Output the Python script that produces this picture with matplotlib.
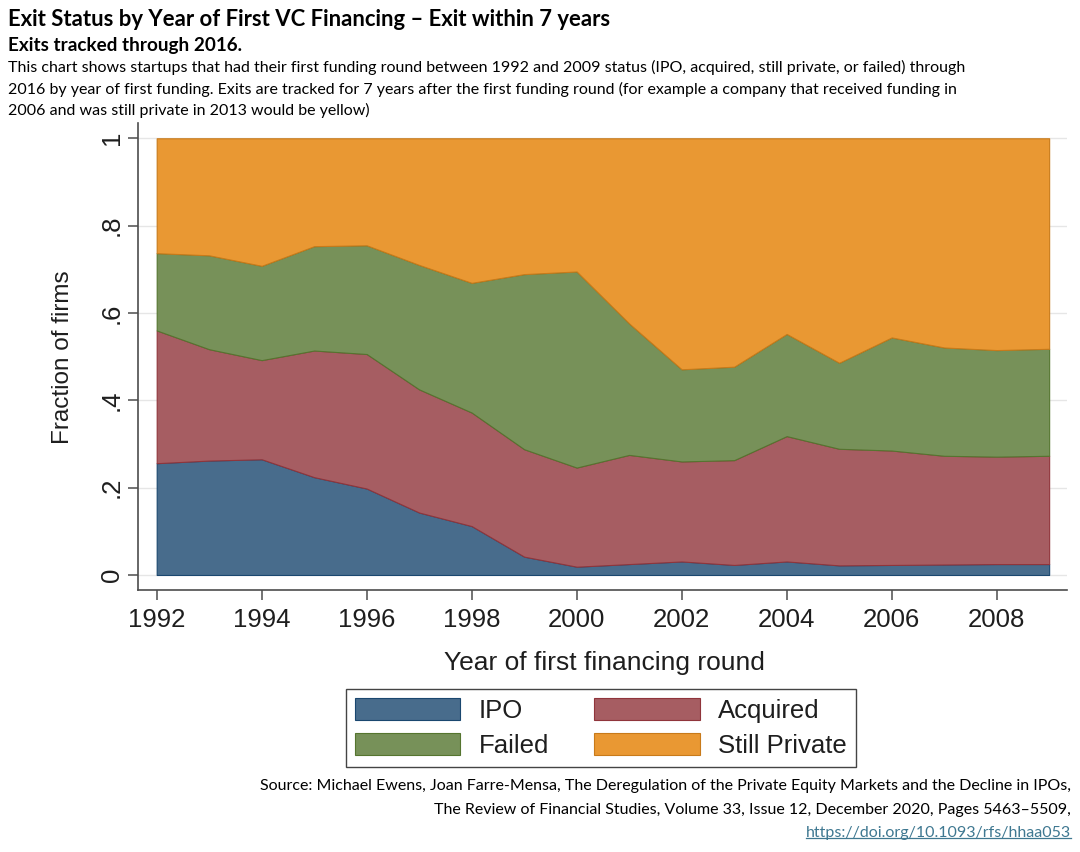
import numpy as np
import matplotlib
matplotlib.use("Agg")
import matplotlib.pyplot as plt
from matplotlib.patches import Patch
from matplotlib.lines import Line2D

# ---------------- data ----------------
years = list(range(1992, 2010))
ipo = [0.256, 0.262, 0.265, 0.224, 0.198, 0.143, 0.112, 0.042, 0.019,
       0.025, 0.031, 0.023, 0.031, 0.022, 0.023, 0.024, 0.025, 0.025]
acquired = [0.304, 0.255, 0.227, 0.290, 0.308, 0.282, 0.260, 0.246, 0.227,
            0.250, 0.229, 0.240, 0.287, 0.267, 0.262, 0.249, 0.246, 0.248]
failed = [0.177, 0.215, 0.216, 0.239, 0.249, 0.285, 0.297, 0.401, 0.449,
          0.301, 0.211, 0.214, 0.234, 0.197, 0.259, 0.248, 0.244, 0.245]
still_private = [0.263, 0.268, 0.292, 0.247, 0.245, 0.290, 0.331, 0.311, 0.305,
                 0.424, 0.529, 0.523, 0.448, 0.514, 0.456, 0.479, 0.485, 0.482]
series_names = ["IPO", "Acquired", "Failed", "Still Private"]
xtick_years = list(range(1992, 2010, 2))
yticks = [0, 0.2, 0.4, 0.6, 0.8, 1.0]
ytick_labels = ["0", ".2", ".4", ".6", ".8", "1"]

title = "Exit Status by Year of First VC Financing \u2013 Exit within 7 years"
subtitle = "Exits tracked through 2016."
desc = [
    "This chart shows startups that had their first funding round between 1992 and 2009 status (IPO, acquired, still private, or failed) through",
    "2016 by year of first funding. Exits are tracked for 7 years after the first funding round (for example a company that received funding in",
    "2006 and was still private in 2013 would be yellow)",
]
source = [
    "Source: Michael Ewens, Joan Farre-Mensa, The Deregulation of the Private Equity Markets and the Decline in IPOs,",
    "The Review of Financial Studies, Volume 33, Issue 12, December 2020, Pages 5463\u20135509,",
]
url = "https://doi.org/10.1093/rfs/hhaa053"

fill_colors = ["#486c8c", "#a65d62", "#779159", "#e99833"]
edge_colors = ["#1a476f", "#90353b", "#55752f", "#c87a1a"]

# ---------------- figure ----------------
W, H = 1080, 852
fig = plt.figure(figsize=(W / 100, H / 100), dpi=100)
renderer = fig.canvas.get_renderer()

ax_l, ax_r, ax_t, ax_b = 138, 1067, 123, 590
ax = fig.add_axes([ax_l / W, 1 - ax_b / H, (ax_r - ax_l) / W, (ax_b - ax_t) / H])

polys = ax.stackplot(years, ipo, acquired, failed, still_private,
                     colors=fill_colors, labels=series_names, zorder=2)
for p, ec in zip(polys, edge_colors):
    p.set_edgecolor(ec)
    p.set_linewidth(0.8)

ax.set_xlim(1991.644, 2009.34)
ax.set_ylim(-0.0344, 1.035)

axis_col = "#4d4d4d"
text_col = "#1e1e1e"
chart_font = "Liberation Sans"

ax.set_xticks(xtick_years)
ax.set_xticklabels([str(y) for y in xtick_years], fontsize=18.5,
                   family=chart_font, color=text_col)
ax.set_yticks(yticks)
ax.set_yticklabels(ytick_labels, fontsize=18.5, family=chart_font,
                   color=text_col, rotation=90, va="center")
ax.tick_params(axis="x", length=7.2, width=1.1, color=axis_col, pad=6)
ax.tick_params(axis="y", length=7.2, width=1.1, color=axis_col, pad=3)

for s in ["top", "right"]:
    ax.spines[s].set_visible(False)
for s in ["left", "bottom"]:
    ax.spines[s].set_color(axis_col)
    ax.spines[s].set_linewidth(1.2)

ax.yaxis.grid(True, color="#e6e6e6", linewidth=1.0)
ax.set_axisbelow(True)

xl = ax.set_xlabel("Year of first financing round", fontsize=19,
                   family=chart_font, color=text_col)
ax.xaxis.set_label_coords(0.5016, -(663 - ax_b) / (ax_b - ax_t))
xl.set_va("center")
yl = ax.set_ylabel("Fraction of firms", fontsize=17.5, family=chart_font,
                   color=text_col)
ax.yaxis.set_label_coords((63 - ax_l) / (ax_r - ax_l), (ax_b - 357) / (ax_b - ax_t))
yl.set_va("center")

# ---------------- legend ----------------
handles = [Patch(facecolor=fc, edgecolor=ec, linewidth=0.8, label=n)
           for fc, ec, n in zip(fill_colors, edge_colors, series_names)]
# row 1 = IPO, Acquired; row 2 = Failed, Still Private (column-major fill)
order = [0, 2, 1, 3]
leg = fig.legend([handles[i] for i in order], [series_names[i] for i in order],
                 ncol=2, loc="upper left",
                 bbox_to_anchor=(346 / W, 1 - 689 / H),
                 borderaxespad=0.0,
                 prop={"family": chart_font, "size": 18.5},
                 handlelength=4.1, handleheight=0.95, handletextpad=0.72,
                 columnspacing=1.75, labelspacing=0.4, borderpad=0.35,
                 frameon=True, fancybox=False, edgecolor="#444444",
                 framealpha=1)
leg.get_frame().set_linewidth(1.0)
for t in leg.get_texts():
    t.set_color(text_col)


# ---------------- header / footer text ----------------
hdr_font = "Lato"


def fit_text(x, y, s, target_w, ha="left", **kw):
    t = fig.text(x / W, 1 - y / H, s, ha=ha, va="center", fontsize=10,
                 family=hdr_font, **kw)
    w = t.get_window_extent(renderer).width
    t.set_fontsize(10 * target_w / w)
    return t


fit_text(8, 19, title, 603, weight="bold", color="#000000")
fit_text(8, 46, subtitle, 234, weight="bold", color="#000000")

t1 = fit_text(8, 67, desc[0], 960, color="#000000")
dsize = t1.get_fontsize()
for line, yy in zip(desc[1:], [89, 110]):
    fig.text(8 / W, 1 - yy / H, line, ha="left", va="center", fontsize=dsize,
             family=hdr_font, color="#000000")

s1 = fit_text(1071, 786, source[0], 809, ha="right", color="#000000")
ssize = s1.get_fontsize()
fig.text(1071 / W, 1 - 810 / H, source[1], ha="right", va="center",
         fontsize=ssize, family=hdr_font, color="#000000")
url_col = "#3f7891"
tu = fig.text(1071 / W, 1 - 833 / H, url, ha="right", va="center",
              fontsize=ssize, family=hdr_font, color=url_col)
bb = tu.get_window_extent(renderer)
uy = bb.y0 + bb.height * 0.17
fig.add_artist(Line2D([bb.x0 / W, bb.x1 / W], [uy / H, uy / H],
                      color=url_col, linewidth=0.9,
                      transform=fig.transFigure))

fig.savefig("out.png", dpi=100, facecolor="white")
